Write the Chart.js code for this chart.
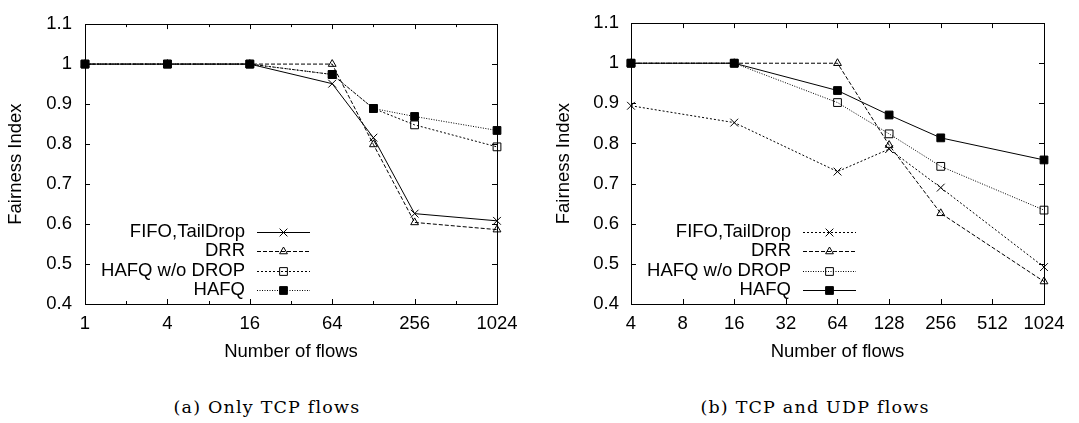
<!DOCTYPE html>
<html>
<head>
<meta charset="utf-8">
<script src="https://cdn.jsdelivr.net/npm/chart.js@4.4.1/dist/chart.umd.min.js"></script>
<style>
  html, body { margin: 0; padding: 0; background: #fff; }
  #page { position: relative; width: 1079px; height: 423px; overflow: hidden; }
  .panel { position: absolute; top: 0; }
  .caption {
    position: absolute; top: 396px; width: 320px; text-align: center;
    font-family: "DejaVu Serif", "Liberation Serif", serif; font-size: 17.5px; color: #000;
    letter-spacing: 1.2px; line-height: 22px; white-space: nowrap;
  }
</style>
</head>
<body>
<div id="page">
  <div class="panel" style="left:0"><canvas id="chartA" width="540" height="370"></canvas></div>
  <div class="panel" style="left:540px"><canvas id="chartB" width="539" height="370"></canvas></div>
  <div class="caption" style="left:107px">(a) Only TCP flows</div>
  <div class="caption" style="left:655px">(b) TCP and UDP flows</div>
</div>
<script>
// (a) only TCP flows
const FLOWS_A = [1, 4, 16, 64, 128, 256, 1024];
const A_FIFO = [1, 1, 1, 0.951, 0.816, 0.626, 0.608];
const A_DRR = [1, 1, 1, 1, 0.799, 0.604, 0.586];
const A_HAFQ_NODROP = [1, 1, 1, 0.974, 0.889, 0.848, 0.793];
const A_HAFQ = [1, 1, 1, 0.974, 0.889, 0.869, 0.834];
const X_TICKS_A = [1, 2, 4, 8, 16, 32, 64, 128, 256, 512, 1024];
const X_LABELS_A = ['1', '', '4', '', '16', '', '64', '', '256', '', '1024'];

// (b) TCP and UDP flows
const FLOWS_B = [4, 16, 64, 128, 256, 1024];
const B_FIFO = [0.894, 0.852, 0.730, 0.786, 0.690, 0.492];
const B_DRR = [1, 1, 1, 0.796, 0.626, 0.456];
const B_HAFQ_NODROP = [1, 1, 0.902, 0.824, 0.743, 0.634];
const B_HAFQ = [1, 1, 0.932, 0.871, 0.814, 0.759];
const X_TICKS_B = [4, 8, 16, 32, 64, 128, 256, 512, 1024];
const X_LABELS_B = ['4', '8', '16', '32', '64', '128', '256', '512', '1024'];

const Y_TICKS = [0.4, 0.5, 0.6, 0.7, 0.8, 0.9, 1, 1.1];
const Y_LABELS = ['0.4', '0.5', '0.6', '0.7', '0.8', '0.9', '1', '1.1'];

const SERIES_NAMES = ['FIFO,TailDrop', 'DRR', 'HAFQ w/o DROP', 'HAFQ'];

const SANS = '"Liberation Sans", Arial, Helvetica, sans-serif';
const FONT_SIZE = 18.5;
const MARKERS = [
  { pointStyle: 'crossRot', pointRadius: 5.5, pointBackgroundColor: '#000' },
  { pointStyle: 'triangle', pointRadius: 4.5, pointBackgroundColor: 'rgba(0,0,0,0)' },
  { pointStyle: 'rect', pointRadius: 5.5, pointBackgroundColor: 'rgba(0,0,0,0)' },
  { pointStyle: 'rect', pointRadius: 5.5, pointBackgroundColor: '#000' },
];

function toPoints(xs, ys) {
  return xs.map((x, i) => ({ x: x, y: ys[i] }));
}

function makeDatasets(xs, seriesList, dashes) {
  return seriesList.map((ys, i) => ({
    label: SERIES_NAMES[i],
    data: toPoints(xs, ys),
    borderColor: '#000',
    borderWidth: 1,
    borderDash: dashes[i],
    pointBorderColor: '#000',
    pointBorderWidth: 1,
    pointHoverRadius: MARKERS[i].pointRadius,
    tension: 0,
    clip: false,
    ...MARKERS[i],
  }));
}

// gnuplot-like frame with inward ticks on all four sides
const frameTicks = {
  id: 'frameTicks',
  afterDatasetsDraw(chart, args, opts) {
    const { ctx, chartArea: a, scales } = chart;
    ctx.save();
    ctx.strokeStyle = '#000';
    ctx.lineWidth = 1;
    ctx.setLineDash([]);
    ctx.beginPath();
    Y_TICKS.forEach((v) => {
      const py = Math.round(scales.y.getPixelForValue(v)) + 0.5;
      ctx.moveTo(a.left, py); ctx.lineTo(a.left + 5, py);
      ctx.moveTo(a.right, py); ctx.lineTo(a.right - 5, py);
    });
    opts.xTicks.forEach((v, i) => {
      const px = Math.round(scales.x.getPixelForValue(v)) + 0.5;
      const len = opts.xLabels[i] ? 5 : 3;
      ctx.moveTo(px, a.bottom); ctx.lineTo(px, a.bottom - len);
      ctx.moveTo(px, a.top); ctx.lineTo(px, a.top + len);
    });
    ctx.stroke();
    ctx.strokeRect(Math.round(a.left) + 0.5, Math.round(a.top) + 0.5,
      Math.round(a.right - a.left), Math.round(a.bottom - a.top));
    ctx.restore();
  },
};

// key placed inside the plot, text right-aligned with the sample to its right
const insideKey = {
  id: 'insideKey',
  afterDatasetsDraw(chart) {
    const { ctx, chartArea: a } = chart;
    ctx.save();
    chart.data.datasets.forEach((ds, i) => {
      const y = a.bottom - 72.3 + i * 19.4;
      ctx.font = FONT_SIZE + 'px ' + SANS;
      ctx.fillStyle = '#000';
      ctx.textAlign = 'right';
      ctx.textBaseline = 'middle';
      ctx.fillText(ds.label, a.left + 160, y);
      ctx.strokeStyle = '#000';
      ctx.lineWidth = 1;
      ctx.setLineDash(ds.borderDash || []);
      ctx.beginPath();
      ctx.moveTo(a.left + 172, Math.round(y) + 0.5);
      ctx.lineTo(a.left + 225, Math.round(y) + 0.5);
      ctx.stroke();
      ctx.setLineDash([]);
      ctx.fillStyle = ds.pointBackgroundColor;
      Chart.helpers.drawPoint(ctx, {
        pointStyle: ds.pointStyle, radius: ds.pointRadius, borderWidth: 1, rotation: 0,
      }, a.left + 198.5, Math.round(y) + 0.5);
    });
    ctx.restore();
  },
};

function makeChart(id, xs, series, dashes, xTicks, xLabels, yAxisWidth, yLabelPad, yTitlePad, rightPad) {
  const canvas = document.getElementById(id);
  const font = { family: SANS, size: FONT_SIZE, lineHeight: 1.2 };
  return new Chart(canvas.getContext('2d'), {
    type: 'line',
    data: { datasets: makeDatasets(xs, series, dashes) },
    plugins: [frameTicks, insideKey],
    options: {
      responsive: false,
      animation: false,
      devicePixelRatio: 1,
      layout: { padding: { top: 14, right: rightPad, bottom: 0, left: 0 } },
      plugins: {
        legend: { display: false },
        tooltip: { enabled: false },
        frameTicks: { xTicks: xTicks, xLabels: xLabels },
      },
      scales: {
        x: {
          type: 'logarithmic',
          min: xTicks[0],
          max: xTicks[xTicks.length - 1],
          afterBuildTicks(s) { s.ticks = xTicks.map((v) => ({ value: v })); },
          afterFit(s) { s.height = 66; },
          grid: { display: false, drawTicks: false },
          border: { display: false },
          ticks: {
            autoSkip: false, maxRotation: 0, padding: 8.5, color: '#000', font: font,
            callback(v, i) { return xLabels[i]; },
          },
          title: {
            display: true, text: 'Number of flows', color: '#000', font: font,
            padding: { top: 0, bottom: 7 },
          },
        },
        y: {
          type: 'linear',
          min: 0.4,
          max: 1.1,
          afterBuildTicks(s) { s.ticks = Y_TICKS.map((v) => ({ value: v })); },
          afterFit(s) { s.width = yAxisWidth; },
          grid: { display: false, drawTicks: false },
          border: { display: false },
          ticks: {
            padding: yLabelPad, color: '#000', font: font,
            callback(v, i) { return Y_LABELS[i]; },
          },
          title: {
            display: true, text: 'Fairness Index', color: '#000', font: font,
            padding: { top: yTitlePad, bottom: 0 },
          },
        },
      },
    },
  });
}

function init() {
  makeChart('chartA', FLOWS_A, [A_FIFO, A_DRR, A_HAFQ_NODROP, A_HAFQ],
    [[], [4, 2], [2, 2], [1, 1.5]], X_TICKS_A, X_LABELS_A, 85, 13, 5, 43);
  makeChart('chartB', FLOWS_B, [B_FIFO, B_DRR, B_HAFQ_NODROP, B_HAFQ],
    [[2, 2], [4, 2], [1, 1.5], []], X_TICKS_B, X_LABELS_B, 91, 12, 13, 35);
}

if (document.readyState === 'loading') {
  document.addEventListener('DOMContentLoaded', init, { once: true });
} else {
  init();
}
</script>
</body>
</html>
